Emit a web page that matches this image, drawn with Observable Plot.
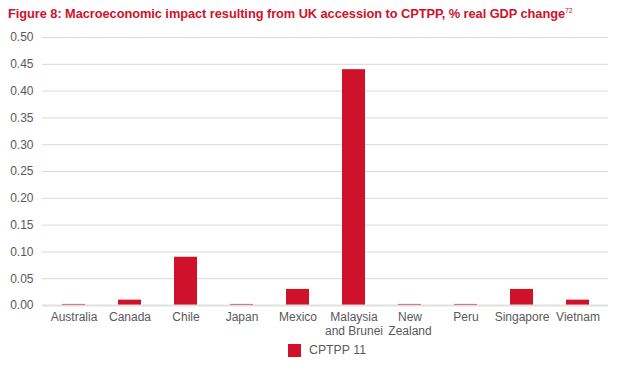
<!DOCTYPE html>
<html>
<head>
<meta charset="utf-8">
<script src="https://cdn.jsdelivr.net/npm/d3@7"></script>
<script src="https://cdn.jsdelivr.net/npm/@observablehq/plot@0.6"></script>
<style>
  body { margin: 0; background: #fff; font-family: "Liberation Sans", Arial, sans-serif; width: 624px; }
  #title { height: 26px; padding: 6px 0 0 8px; box-sizing: border-box; color: #d0112b; font-weight: bold; font-size: 12.8px; letter-spacing: -0.05px; }
  #title sup { font-size: 7px; font-weight: normal; vertical-align: 5px; }
  #legend { display: flex; align-items: center; justify-content: center; gap: 8px; font-size: 12.3px; color: #595959; padding-left: 30px; margin-top: 3px; }
  #legend .sw { width: 13px; height: 13px; background: #d0112b; }
</style>
</head>
<body>
<div id="title">Figure 8: Macroeconomic impact resulting from UK accession to CPTPP, % real GDP change<sup>72</sup></div>
<div id="chart"></div>
<div id="legend"><span class="sw"></span><span>CPTPP 11</span></div>
<script>
const countries = ["Australia", "Canada", "Chile", "Japan", "Mexico", "Malaysia and Brunei", "New Zealand", "Peru", "Singapore", "Vietnam"];
const labelLine1 = ["Australia", "Canada", "Chile", "Japan", "Mexico", "Malaysia", "New", "Peru", "Singapore", "Vietnam"];
const labelLine2 = ["", "", "", "", "", "and Brunei", "Zealand", "", "", ""];
const values = [0.002, 0.01, 0.09, 0.002, 0.03, 0.44, 0.002, 0.002, 0.03, 0.01];
const yTicks = [0, 0.05, 0.1, 0.15, 0.2, 0.25, 0.3, 0.35, 0.4, 0.45, 0.5];
const seriesName = "CPTPP 11";

const data = countries.map((c, i) => ({country: c, value: values[i], series: seriesName, l1: labelLine1[i], l2: labelLine2[i]}));

const chart = Plot.plot({
  width: 624,
  height: 314,
  marginTop: 11,
  marginLeft: 42,
  marginRight: 16,
  marginBottom: 35,
  style: { fontFamily: "Liberation Sans, Arial, sans-serif", fontSize: "12px", color: "#595959" },
  x: { domain: countries, paddingInner: 0.59, paddingOuter: 0.295, label: null, axis: null },
  y: { domain: [0, 0.5], ticks: yTicks, tickFormat: d3.format(".2f"), label: null, tickSize: 0, tickPadding: 9 },
  marks: [
    Plot.ruleY(yTicks.filter(d => d > 0), { stroke: "#d9d9d9", strokeWidth: 1 }),
    Plot.barY(data, { x: "country", y: "value", fill: "#d0112b" }),
    Plot.ruleY([0], { stroke: "#e0e0e0", strokeWidth: 2 }),
    Plot.text(data, { x: "country", text: "l1", frameAnchor: "bottom", lineAnchor: "top", dy: 7, fill: "#595959" }),
    Plot.text(data.filter(d => d.l2), { x: "country", text: "l2", frameAnchor: "bottom", lineAnchor: "top", dy: 21, fill: "#595959" })
  ]
});
document.getElementById("chart").appendChild(chart);
</script>
</body>
</html>
